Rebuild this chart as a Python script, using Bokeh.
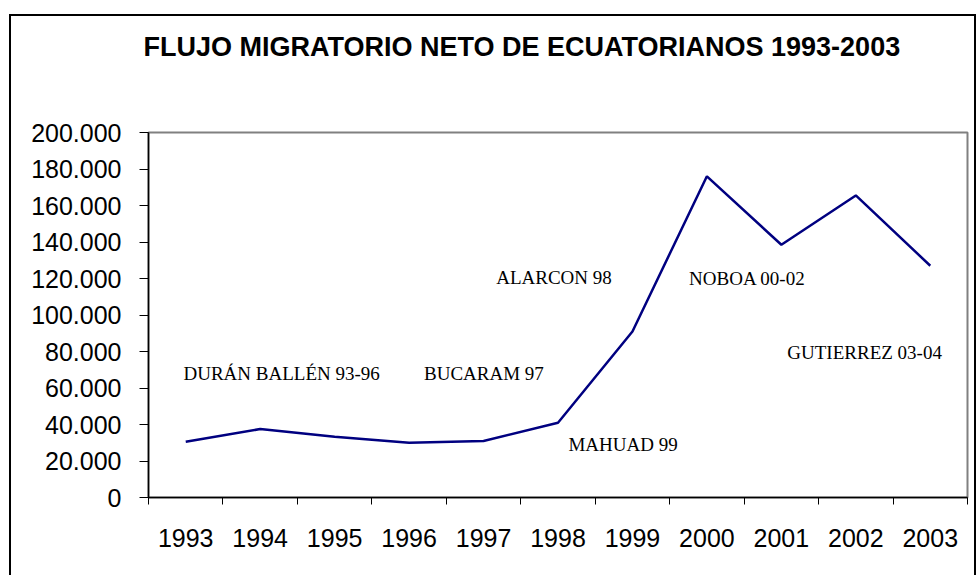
from bokeh.plotting import figure
from bokeh.models import Range1d, FixedTicker, Label, Title, InlineStyleSheet
from bokeh.embed import file_html
from bokeh.resources import INLINE

# ---- data ----
years = ["1993", "1994", "1995", "1996", "1997", "1998",
         "1999", "2000", "2001", "2002", "2003"]
migrants = [30500, 37500, 33300, 30000, 31000, 41000,
            91000, 176000, 138500, 165500, 127000]
y_ticks = [0, 20000, 40000, 60000, 80000, 100000,
           120000, 140000, 160000, 180000, 200000]
y_tick_labels = ["0", "20.000", "40.000", "60.000", "80.000", "100.000",
                 "120.000", "140.000", "160.000", "180.000", "200.000"]
title_text = "FLUJO MIGRATORIO NETO DE ECUATORIANOS 1993-2003"
notes = ["DURÁN BALLÉN 93-96", "BUCARAM 97", "ALARCON 98",
         "MAHUAD 99", "NOBOA 00-02", "GUTIERREZ 03-04"]
note_x = [0.47, 3.70, 4.67, 5.64, 7.26, 8.58]
note_y = [67900, 67900, 120500, 29000, 120000, 79400]

n = len(years)
xc = [i + 0.5 for i in range(n)]

border_css = InlineStyleSheet(css="""
:host::after {
  content: "";
  position: absolute;
  left: 9px; top: 14px; right: 0px; bottom: -20px;
  border: 2px solid #000000;
  pointer-events: none;
}
""")

p = figure(width=976, height=575, output_backend="svg", toolbar_location=None,
           x_range=Range1d(0, n), y_range=Range1d(0, 200000),
           min_border_left=148, min_border_right=9,
           min_border_top=132, min_border_bottom=78,
           stylesheets=[border_css])
p.title.visible = False
# spacer between frame and title, then the real title above it
p.add_layout(Title(text=" ", standoff=56, text_font_size="10px"), "above")
p.add_layout(Title(text=title_text, align="left", offset=-5, vertical_align="top",
                   standoff=0, text_font="Liberation Sans", text_font_style="bold",
                   text_font_size="27px", text_color="#000000"), "above")
p.background_fill_color = "white"
p.border_fill_color = "white"
p.outline_line_color = "#808080"
p.outline_line_width = 2
p.xgrid.visible = False
p.ygrid.visible = False

p.line(xc, migrants, line_color="#000080", line_width=2.5)

# x axis: labels at category centres, ticks at boundaries
xa = p.xaxis[0]
xa.ticker = FixedTicker(ticks=xc, minor_ticks=list(range(n + 1)))
xa.major_label_overrides = {x: y for x, y in zip(xc, years)}
xa.major_tick_line_color = None
xa.major_tick_out = 7
xa.major_tick_in = 0
xa.minor_tick_out = 7
xa.minor_tick_in = 0
xa.minor_tick_line_color = "#000000"
xa.axis_line_color = "#000000"
xa.axis_line_width = 1.5
xa.major_label_text_font = "Liberation Sans"
xa.major_label_text_font_size = "25px"
xa.major_label_text_color = "#000000"
xa.major_label_standoff = 24

ya = p.yaxis[0]
ya.ticker = FixedTicker(ticks=y_ticks, minor_ticks=[])
ya.major_label_overrides = {t: s for t, s in zip(y_ticks, y_tick_labels)}
ya.major_tick_out = 9
ya.major_tick_in = 0
ya.major_tick_line_color = "#000000"
ya.minor_tick_line_color = None
ya.axis_line_color = "#000000"
ya.axis_line_width = 1.5
ya.major_label_text_font = "Liberation Sans"
ya.major_label_text_font_size = "25px"
ya.major_label_text_color = "#000000"
ya.major_label_standoff = 18

for t, x, y in zip(notes, note_x, note_y):
    p.add_layout(Label(x=x, y=y, text=t, text_align="left",
                       text_baseline="middle", text_font="Liberation Serif",
                       text_font_size="19px", text_color="#000000"))

open("out.html", "w").write(file_html(p, INLINE))
